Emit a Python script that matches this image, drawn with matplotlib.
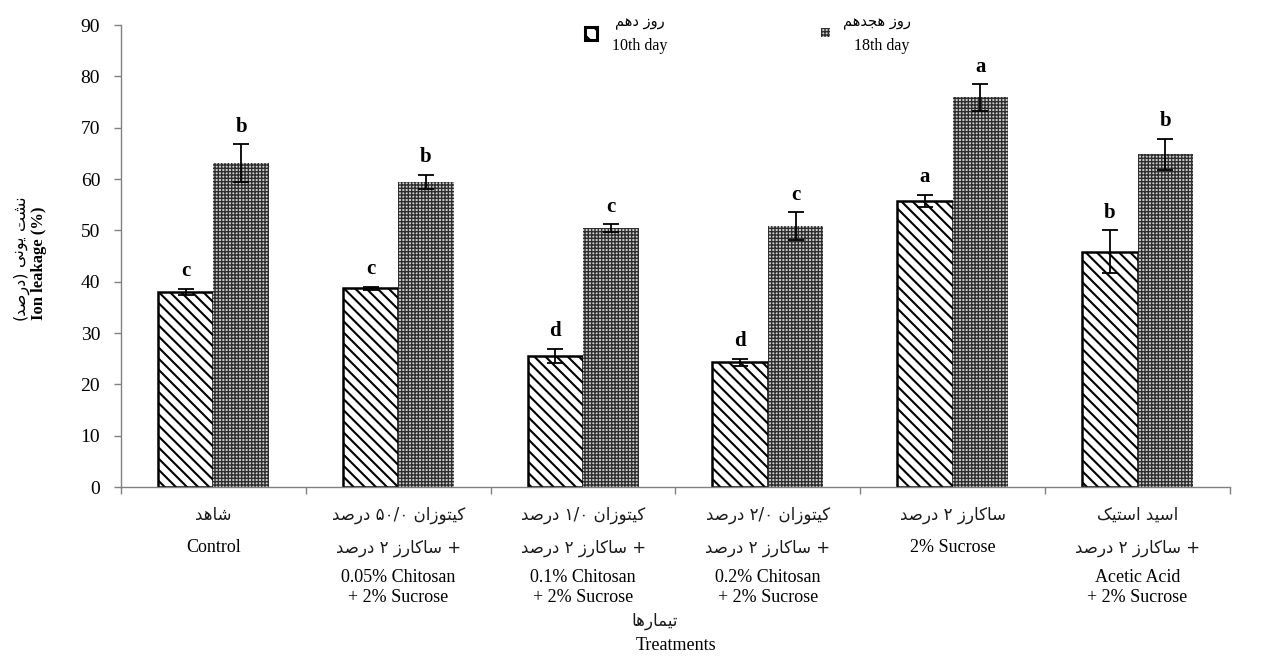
import matplotlib
matplotlib.use("Agg")
import matplotlib.pyplot as plt
from matplotlib.patches import Rectangle
from matplotlib.transforms import blended_transform_factory
import numpy as np

plt.rcParams["font.family"] = ["Liberation Serif", "DejaVu Sans"]

# ---- data ---------------------------------------------------------------
day10 = [38.0, 38.7, 25.5, 24.3, 55.7, 45.8]
day10_err = [0.6, 0.3, 1.4, 0.7, 1.2, 4.2]
day18 = [63.1, 59.4, 50.4, 50.8, 75.9, 64.8]
day18_err = [3.7, 1.4, 0.8, 2.7, 2.6, 3.0]
letters10 = ["c", "c", "d", "d", "a", "b"]
letters18 = ["b", "b", "c", "c", "a", "b"]
en_labels = [
    ["Control"],
    ["0.05% Chitosan", "+ 2% Sucrose"],
    ["0.1% Chitosan", "+ 2% Sucrose"],
    ["0.2% Chitosan", "+ 2% Sucrose"],
    ["2% Sucrose"],
    ["Acetic Acid", "+ 2% Sucrose"],
]
yticks = list(range(0, 91, 10))

# ---- minimal Persian shaping (contextual presentation forms) ------------
# isolated, final, initial, medial
FORMS = {
    "ا": ("\uFE8D", "\uFE8E", None, None),
    "ب": ("\uFE8F", "\uFE90", "\uFE91", "\uFE92"),
    "ت": ("\uFE95", "\uFE96", "\uFE97", "\uFE98"),
    "ج": ("\uFE9D", "\uFE9E", "\uFE9F", "\uFEA0"),
    "د": ("\uFEA9", "\uFEAA", None, None),
    "ر": ("\uFEAD", "\uFEAE", None, None),
    "ز": ("\uFEAF", "\uFEB0", None, None),
    "س": ("\uFEB1", "\uFEB2", "\uFEB3", "\uFEB4"),
    "ش": ("\uFEB5", "\uFEB6", "\uFEB7", "\uFEB8"),
    "ص": ("\uFEB9", "\uFEBA", "\uFEBB", "\uFEBC"),
    "ل": ("\uFEDD", "\uFEDE", "\uFEDF", "\uFEE0"),
    "م": ("\uFEE1", "\uFEE2", "\uFEE3", "\uFEE4"),
    "ن": ("\uFEE5", "\uFEE6", "\uFEE7", "\uFEE8"),
    "ه": ("\uFEE9", "\uFEEA", "\uFEEB", "\uFEEC"),
    "و": ("\uFEED", "\uFEEE", None, None),
    "ک": ("\uFB8E", "\uFB8F", "\uFB90", "\uFB91"),
    "ی": ("\uFBFC", "\uFBFD", "\uFBFE", "\uFBFF"),
}


def shape(word):
    out = []
    for i, c in enumerate(word):
        f = FORMS.get(c)
        if f is None:
            out.append(c)
            continue
        prev = word[i - 1] if i > 0 else None
        nxt = word[i + 1] if i < len(word) - 1 else None
        jp = prev in FORMS and FORMS[prev][2] is not None
        jn = f[2] is not None and nxt in FORMS
        if jp and jn:
            out.append(f[3])
        elif jp:
            out.append(f[1])
        elif jn:
            out.append(f[2])
        else:
            out.append(f[0])
    return "".join(reversed(out))


def vis(*tokens):
    """Tokens listed left-to-right as they should appear on the page."""
    return " ".join(reversed(tokens))


DARSAD = shape("درصد")
SUCROSE_FA = shape("ساکارز")
CHITOSAN_FA = shape("کیتوزان")
PLUS_SUCROSE = vis("+", SUCROSE_FA, "۲", DARSAD)
fa_labels = [
    [vis(shape("شاهد"))],
    [vis(CHITOSAN_FA, "۵۰/۰", DARSAD), PLUS_SUCROSE],
    [vis(CHITOSAN_FA, "۱/۰", DARSAD), PLUS_SUCROSE],
    [vis(CHITOSAN_FA, "۲/۰", DARSAD), PLUS_SUCROSE],
    [vis(SUCROSE_FA, "۲", DARSAD)],
    [vis(shape("اسید"), shape("استیک")), PLUS_SUCROSE],
]
# y-axis title words, from the bottom of the axis upwards
ylabel_fa_words = ["(" + DARSAD + ")", shape("یونی"), shape("نشت")]

# ---- figure -------------------------------------------------------------
W, H = 1264, 657
fig = plt.figure(figsize=(W / 100, H / 100), dpi=100)
ax = fig.add_axes([121 / W, 170 / H, 1109 / W, 462 / H])

x = np.arange(len(day10))
w = 0.30
HATCH10 = "\\" * 3
HATCH18 = "+" * 5
FACE18 = "#cfcfcf"
EDGE18 = "#2e2e2e"


def hatch_lw(patches, lw):
    for p in patches:
        if hasattr(p, "set_hatch_linewidth"):
            p.set_hatch_linewidth(lw)


plt.rcParams["hatch.linewidth"] = 1.5
bars10 = ax.bar(x - w / 2, day10, w, facecolor="white", edgecolor="black",
                linewidth=1.8, hatch=HATCH10, zorder=2)
hatch_lw(bars10, 1.5)
plt.rcParams["hatch.linewidth"] = 1.0
bars18 = ax.bar(x + w / 2, day18, w, facecolor=FACE18, edgecolor=EDGE18,
                linewidth=0, hatch=HATCH18, zorder=2)
hatch_lw(bars18, 1.0)

ax.errorbar(x - w / 2, day10, yerr=day10_err, fmt="none", ecolor="black",
            elinewidth=1.3, capsize=6, capthick=1.3, zorder=3)
ax.errorbar(x + w / 2, day18, yerr=day18_err, fmt="none", ecolor="black",
            elinewidth=1.3, capsize=6, capthick=1.3, zorder=3)

for xi, v, e, t in zip(x - w / 2, day10, day10_err, letters10):
    ax.annotate(t, (xi, v + e), xytext=(0, 9), textcoords="offset points",
                ha="center", va="baseline", fontsize=15, fontweight="bold")
for xi, v, e, t in zip(x + w / 2, day18, day18_err, letters18):
    ax.annotate(t, (xi, v + e), xytext=(0, 9), textcoords="offset points",
                ha="center", va="baseline", fontsize=15, fontweight="bold")

ax.set_xlim(-0.5, len(day10) - 0.5)
ax.set_ylim(0, 90)
ax.set_yticks(yticks)
ax.set_yticklabels([str(t) for t in yticks], fontsize=14)
ax.set_xticks(np.arange(-0.5, len(day10), 1.0))
ax.set_xticklabels([])
ax.tick_params(axis="both", direction="out", length=5, color="#808080", width=1)
ax.tick_params(axis="y", pad=10)
for s in ("top", "right"):
    ax.spines[s].set_visible(False)
for s in ("left", "bottom"):
    ax.spines[s].set_color("#808080")
    ax.spines[s].set_linewidth(1)

# ---- category labels ----------------------------------------------------
tr = blended_transform_factory(ax.transData, fig.transFigure)


def fy(py):
    return 1 - py / H


FA_FONT = dict(family=["DejaVu Sans"], fontsize=12, color="#1a1a1a")
EN_FONT = dict(family=["Liberation Serif", "DejaVu Sans"], fontsize=13, color="black")

for i in range(len(day10)):
    fa = fa_labels[i]
    en = en_labels[i]
    ax.text(i, fy(515), fa[0], transform=tr, ha="center", va="center", **FA_FONT)
    if len(fa) == 1:
        ax.text(i, fy(548), en[0], transform=tr, ha="center", va="center", **EN_FONT)
    else:
        ax.text(i, fy(548), fa[1], transform=tr, ha="center", va="center", **FA_FONT)
        ax.text(i, fy(578), en[0], transform=tr, ha="center", va="center", **EN_FONT)
        ax.text(i, fy(597), en[1], transform=tr, ha="center", va="center", **EN_FONT)

fig.text(655 / W, fy(621), vis(shape("تیمارها")), ha="center", va="center", **FA_FONT)
fig.text(676 / W, fy(646), "Treatments", ha="center", va="center", **EN_FONT)

# ---- y-axis title (reads bottom to top) ---------------------------------
renderer = fig.canvas.get_renderer()
y_px = 320.0
for word in ylabel_fa_words:
    t = fig.text(20 / W, fy(y_px), word, rotation=90, ha="center", va="bottom",
                 family=["DejaVu Sans"], fontsize=11.5)
    ext = t.get_window_extent(renderer)
    y_px -= ext.height + 5
fig.text(39 / W, fy(320), "Ion leakage (%)", rotation=90, ha="center", va="bottom",
         family=["Liberation Serif", "DejaVu Sans"], fontsize=12, fontweight="bold")

# ---- legend -------------------------------------------------------------
plt.rcParams["hatch.linewidth"] = 1.5
leg10 = Rectangle((585 / W, fy(40)), 12 / W, 13 / H, transform=fig.transFigure,
                  facecolor="white", edgecolor="black", linewidth=2.2,
                  hatch="\\" * 2, figure=fig)
plt.rcParams["hatch.linewidth"] = 1.0
leg18 = Rectangle((821 / W, fy(37)), 9 / W, 9 / H, transform=fig.transFigure,
                  facecolor=FACE18, edgecolor=EDGE18, linewidth=0,
                  hatch=HATCH18, figure=fig)
fig.patches.extend([leg10, leg18])
fig.text(640 / W, fy(22), vis(shape("روز"), shape("دهم")), ha="center", va="center",
         family=["DejaVu Sans"], fontsize=10.5)
fig.text(640 / W, fy(46), "10th day", ha="center", va="center",
         family=["Liberation Serif"], fontsize=11.5)
fig.text(877 / W, fy(22), vis(shape("روز"), shape("هجدهم")), ha="center", va="center",
         family=["DejaVu Sans"], fontsize=10.5)
fig.text(882 / W, fy(46), "18th day", ha="center", va="center",
         family=["Liberation Serif"], fontsize=11.5)

fig.savefig("out.png", dpi=100)
